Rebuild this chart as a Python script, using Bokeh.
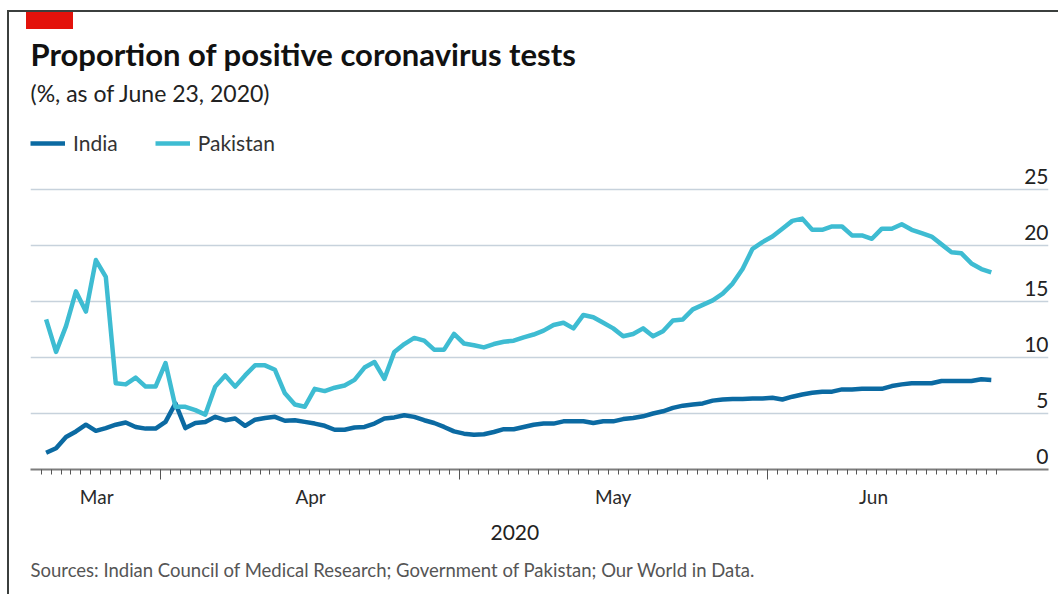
import pandas as pd
from bokeh.plotting import figure
from bokeh.models import (Range1d, FixedTicker, LinearAxis, Label, Title,
                          Legend, LegendItem, ColumnDataSource, Grid, CustomJSTickFormatter)
from bokeh.core.properties import value
from bokeh.embed import file_html
from bokeh.resources import INLINE

# ---------------- data ----------------
start_date = "2020-03-20 12:00"
india = [1.5, 1.9, 2.9, 3.4, 4.0, 3.45, 3.7, 4.0, 4.2, 3.8, 3.65, 3.65, 4.25, 5.9, 3.7, 4.15,
         4.25, 4.7, 4.4, 4.55, 3.9, 4.45, 4.6, 4.7, 4.35, 4.4, 4.25, 4.1, 3.9, 3.55, 3.55, 3.75,
         3.8, 4.1, 4.55, 4.65, 4.85, 4.7, 4.4, 4.15, 3.8, 3.4, 3.2, 3.1, 3.15, 3.35, 3.6, 3.6,
         3.8, 4.0, 4.1, 4.1, 4.3, 4.3, 4.3, 4.15, 4.3, 4.3, 4.5, 4.6, 4.75, 5.0, 5.2, 5.5,
         5.7, 5.8, 5.9, 6.15, 6.25, 6.3, 6.3, 6.35, 6.35, 6.4, 6.25, 6.5, 6.7, 6.85, 6.95, 6.95,
         7.15, 7.15, 7.2, 7.2, 7.2, 7.45, 7.6, 7.7, 7.7, 7.7, 7.9, 7.9, 7.9, 7.9, 8.05, 8.0]
pakistan = [13.4, 10.5, 12.8, 15.9, 14.1, 18.7, 17.2, 7.7, 7.6, 8.2, 7.4, 7.4, 9.5, 5.6, 5.6, 5.3,
            4.9, 7.4, 8.4, 7.4, 8.4, 9.3, 9.3, 8.9, 6.8, 5.8, 5.6, 7.2, 7.0, 7.3, 7.5, 8.0,
            9.1, 9.6, 8.1, 10.5, 11.2, 11.75, 11.5, 10.7, 10.7, 12.1, 11.25, 11.1, 10.9, 11.2, 11.4, 11.5,
            11.8, 12.05, 12.4, 12.9, 13.1, 12.6, 13.8, 13.6, 13.1, 12.6, 11.9, 12.1, 12.6, 11.9, 12.35, 13.3,
            13.4, 14.3, 14.7, 15.1, 15.7, 16.6, 17.9, 19.7, 20.3, 20.8, 21.5, 22.2, 22.4, 21.4, 21.4, 21.7,
            21.7, 20.9, 20.9, 20.6, 21.5, 21.5, 21.9, 21.4, 21.1, 20.8, 20.1, 19.4, 19.3, 18.4, 17.9, 17.6]
series_names = ["India", "Pakistan"]
y_ticks = [0, 5, 10, 15, 20, 25]
month_starts = ["2020-04-01", "2020-05-01", "2020-06-01"]
month_label_pos = ["2020-03-25 14:00", "2020-04-16 02:00", "2020-05-16 12:00", "2020-06-11 16:00"]
month_labels = ["Mar", "Apr", "May", "Jun"]
day_ticks_start, day_ticks_end = "2020-03-20", "2020-06-24"
x_start, x_end = "2020-03-18 22:20", "2020-06-29 06:00"

title = "Proportion of positive coronavirus tests"
subtitle = "(%, as of June 23, 2020)"
year_label = "2020"
source = "Sources: Indian Council of Medical Research; Government of Pakistan; Our World in Data."

# ---------------- styles ----------------
FONT = "Lato"
C_INDIA = "#0b6aa2"
C_PAK = "#3ebcd2"
GRID = "#c7d2dc"


def ms(s):
    return pd.Timestamp(s).value / 1e6


dates = pd.date_range(start_date, periods=len(india), freq="D")
src = ColumnDataSource(dict(x=dates, india=india, pakistan=pakistan))

p = figure(width=1058, height=594, x_axis_type="datetime", output_backend="svg",
           toolbar_location=None, x_axis_location=None, y_axis_location=None,
           x_range=Range1d(pd.Timestamp(x_start), pd.Timestamp(x_end)),
           y_range=Range1d(0, 469 / 11.2),
           min_border_left=30, min_border_right=10, min_border_top=0, min_border_bottom=125)
p.outline_line_color = None
p.background_fill_alpha = 0
p.border_fill_alpha = 0
p.xgrid.visible = False
p.ygrid.visible = False
# frame lines and red tag of the original graphic
p.styles = {
    "background-color": "white",
    "background-image": ("linear-gradient(#e3120b,#e3120b), linear-gradient(#3b3f3d,#3b3f3d), "
                         "linear-gradient(#3b3f3d,#3b3f3d)"),
    "background-size": "47px 17px, 2px 584px, 1051px 2px",
    "background-position": "26px 12px, 7px 10px, 7px 10px",
    "background-repeat": "no-repeat",
}

grid = Grid(dimension=1, ticker=FixedTicker(ticks=y_ticks[1:]), grid_line_color=GRID,
            grid_line_width=1.6)
p.add_layout(grid)

# tick axis
daily = [ms(d) for d in pd.date_range(day_ticks_start, day_ticks_end, freq="D")]
tick_axis = LinearAxis(ticker=FixedTicker(ticks=[ms(m) for m in month_starts], minor_ticks=daily),
                       formatter=CustomJSTickFormatter(code="return ''"),
                       major_tick_in=0, major_tick_out=10, minor_tick_in=0, minor_tick_out=5,
                       major_tick_line_color="#555555", minor_tick_line_color="#555555",
                       major_tick_line_width=1, minor_tick_line_width=1,
                       axis_line_color="#7d7d7d", axis_line_width=2,
                       major_label_text_font_size="1px", major_label_standoff=0)
p.add_layout(tick_axis, "below")

# month label axis
lab_ticks = [ms(m) for m in month_label_pos]
label_axis = LinearAxis(ticker=FixedTicker(ticks=lab_ticks),
                        major_label_overrides={t: l for t, l in zip(lab_ticks, month_labels)},
                        axis_line_color=None, major_tick_line_color=None, minor_tick_line_color=None,
                        major_tick_out=0, major_tick_in=0,
                        major_label_text_font=FONT, major_label_text_font_size="19px",
                        major_label_text_color="#2a2a2a", major_label_standoff=5)
p.add_layout(label_axis, "below")

p.add_layout(Title(text=year_label, align="left", offset=460, text_font=FONT,
                   text_font_size="21px", text_font_style="normal", text_color="#222222",
                   standoff=24), "below")
p.add_layout(Title(text=source, align="left", offset=0, text_font=FONT,
                   text_font_size="18.5px", text_font_style="normal", text_color="#555555",
                   standoff=10), "below")

r_ind = p.line("x", "india", source=src, line_color=C_INDIA, line_width=4.5, line_join="round")
r_pak = p.line("x", "pakistan", source=src, line_color=C_PAK, line_width=4.5, line_join="round")

# y labels on the right, above the gridlines
ysrc = ColumnDataSource(dict(x=[pd.Timestamp(x_end)] * len(y_ticks), y=y_ticks,
                             t=[str(v) for v in y_ticks]))
p.text("x", "y", text="t", source=ysrc, text_align="right", text_baseline="alphabetic",
       y_offset=-13, text_font=value(FONT), text_font_size="21px", text_color="#222222")

legend = Legend(items=[LegendItem(label=series_names[0], renderers=[r_ind]),
                       LegendItem(label=series_names[1], renderers=[r_pak])],
                orientation="horizontal", location=(0, 314), glyph_width=35, glyph_height=20,
                label_standoff=8, spacing=37, padding=0, margin=0, label_height=20,
                label_text_font=FONT, label_text_font_size="21px", label_text_color="#333333",
                border_line_color=None, background_fill_alpha=0)
p.add_layout(legend)

# header texts (screen units relative to frame: left = x 30, bottom = y 469)
p.add_layout(Label(x=0, y=416, x_units="screen", y_units="screen", text=title,
                   text_font=FONT, text_font_style="bold", text_font_size="31px",
                   text_color="#111111", text_baseline="middle"))
p.add_layout(Label(x=0, y=377, x_units="screen", y_units="screen", text=subtitle,
                   text_font=FONT, text_font_size="23px", text_color="#222222",
                   text_baseline="middle"))

open("out.html", "w").write(file_html(p, INLINE))
